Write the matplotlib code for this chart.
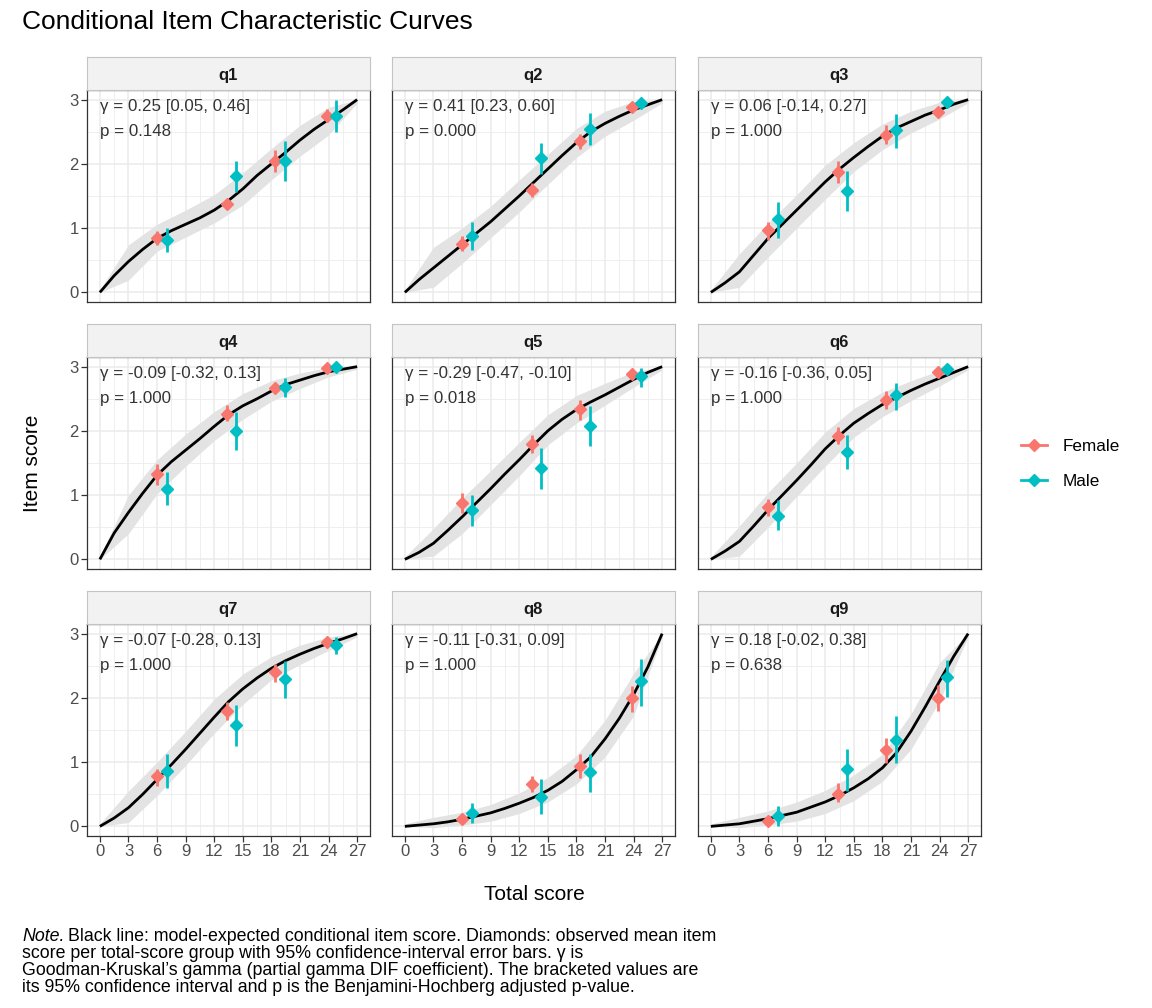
import numpy as np
import matplotlib
matplotlib.use("Agg")
import matplotlib.pyplot as plt
from matplotlib.lines import Line2D

plt.rcParams['font.family'] = ['Liberation Sans', 'DejaVu Sans']

# ---------------- data ----------------
items = ["q1", "q2", "q3", "q4", "q5", "q6", "q7", "q8", "q9"]
gamma_labels = ["γ = 0.25 [0.05, 0.46]", "γ = 0.41 [0.23, 0.60]", "γ = 0.06 [-0.14, 0.27]",
                "γ = -0.09 [-0.32, 0.13]", "γ = -0.29 [-0.47, -0.10]", "γ = -0.16 [-0.36, 0.05]",
                "γ = -0.07 [-0.28, 0.13]", "γ = -0.11 [-0.31, 0.09]", "γ = 0.18 [-0.02, 0.38]"]
p_labels = ["p = 0.148", "p = 0.000", "p = 1.000", "p = 1.000", "p = 0.018", "p = 1.000",
            "p = 1.000", "p = 1.000", "p = 0.638"]

x_ticks = [0, 3, 6, 9, 12, 15, 18, 21, 24, 27]
y_ticks = [0, 1, 2, 3]

curve_x = [0, 1.5, 3, 4.5, 6, 7.5, 9, 10.5, 12, 13.5, 15, 16.5, 18, 19.5, 21, 22.5, 24, 25.5, 27]
q1_curve = [0, 0.26, 0.48, 0.67, 0.84, 0.96, 1.06, 1.16, 1.28, 1.43, 1.61, 1.82, 2.0, 2.18, 2.37, 2.54, 2.69, 2.84, 3.0]
q2_curve = [0, 0.2, 0.38, 0.56, 0.74, 0.92, 1.1, 1.3, 1.5, 1.71, 1.92, 2.13, 2.33, 2.5, 2.63, 2.74, 2.84, 2.92, 3.0]
q3_curve = [0, 0.15, 0.32, 0.58, 0.84, 1.06, 1.28, 1.5, 1.72, 1.92, 2.1, 2.27, 2.43, 2.56, 2.66, 2.76, 2.84, 2.93, 3.0]
q4_curve = [0, 0.41, 0.73, 1.03, 1.31, 1.52, 1.70, 1.88, 2.07, 2.25, 2.39, 2.50, 2.62, 2.72, 2.79, 2.86, 2.92, 2.96, 3.0]
q5_curve = [0, 0.11, 0.25, 0.45, 0.66, 0.88, 1.1, 1.33, 1.55, 1.78, 2.0, 2.18, 2.33, 2.45, 2.56, 2.68, 2.8, 2.91, 3.0]
q6_curve = [0, 0.13, 0.28, 0.52, 0.77, 1.0, 1.23, 1.47, 1.72, 1.93, 2.12, 2.27, 2.41, 2.52, 2.63, 2.73, 2.82, 2.91, 3.0]
q7_curve = [0, 0.13, 0.29, 0.5, 0.73, 0.96, 1.2, 1.45, 1.7, 1.94, 2.14, 2.31, 2.46, 2.58, 2.68, 2.77, 2.85, 2.92, 3.0]
q8_curve = [0, 0.02, 0.04, 0.07, 0.11, 0.16, 0.21, 0.28, 0.36, 0.45, 0.56, 0.7, 0.88, 1.08, 1.36, 1.68, 2.05, 2.48, 3.0]
q9_curve = [0, 0.02, 0.04, 0.08, 0.12, 0.17, 0.22, 0.3, 0.38, 0.48, 0.6, 0.74, 0.91, 1.15, 1.48, 1.86, 2.26, 2.65, 3.0]

band_x = [0, 3, 6, 9, 12, 15, 18, 21, 24, 27]
q1_band_lo = [0, 0.19, 0.64, 0.86, 1.08, 1.36, 1.75, 2.12, 2.45, 2.95]
q1_band_hi = [0.04, 0.74, 1.06, 1.28, 1.52, 1.86, 2.24, 2.60, 2.88, 3.0]
q2_band_lo = [0, 0.08, 0.45, 0.85, 1.25, 1.68, 2.10, 2.43, 2.68, 2.95]
q2_band_hi = [0.04, 0.70, 1.00, 1.34, 1.75, 2.15, 2.55, 2.82, 2.97, 3.0]
q3_band_lo = [0, 0.08, 0.55, 1.00, 1.45, 1.88, 2.22, 2.48, 2.70, 2.95]
q3_band_hi = [0.04, 0.60, 1.08, 1.52, 1.98, 2.33, 2.62, 2.82, 2.96, 3.0]
q4_band_lo = [0, 0.40, 1.02, 1.45, 1.85, 2.18, 2.46, 2.66, 2.84, 2.96]
q4_band_hi = [0.04, 1.00, 1.55, 1.95, 2.30, 2.58, 2.78, 2.90, 2.99, 3.0]
q5_band_lo = [0, 0.05, 0.40, 0.85, 1.30, 1.78, 2.12, 2.40, 2.68, 2.95]
q5_band_hi = [0.04, 0.48, 0.95, 1.38, 1.82, 2.25, 2.55, 2.74, 2.92, 3.0]
q6_band_lo = [0, 0.05, 0.50, 0.98, 1.45, 1.90, 2.22, 2.47, 2.70, 2.95]
q6_band_hi = [0.04, 0.52, 1.04, 1.50, 1.98, 2.35, 2.60, 2.78, 2.94, 3.0]
q7_band_lo = [0, 0.06, 0.48, 0.95, 1.45, 1.90, 2.28, 2.52, 2.74, 2.95]
q7_band_hi = [0.04, 0.55, 1.00, 1.48, 1.98, 2.37, 2.64, 2.82, 2.95, 3.0]
q8_band_lo = [0, -0.02, 0.02, 0.08, 0.20, 0.38, 0.66, 1.08, 1.72, 2.95]
q8_band_hi = [0.04, 0.14, 0.22, 0.34, 0.52, 0.76, 1.10, 1.65, 2.38, 3.0]
q9_band_lo = [0, -0.02, 0.02, 0.08, 0.20, 0.40, 0.70, 1.20, 1.95, 2.95]
q9_band_hi = [0.04, 0.14, 0.24, 0.38, 0.56, 0.80, 1.12, 1.75, 2.55, 3.0]

female_x = [6.0, 13.3, 18.4, 23.8]
male_x = [7.0, 14.3, 19.4, 24.8]

q1_f_mean = [0.84, 1.38, 2.05, 2.75]; q1_f_lo = [0.73, 1.33, 1.88, 2.65]; q1_f_hi = [0.95, 1.43, 2.22, 2.86]
q1_m_mean = [0.81, 1.81, 2.05, 2.75]; q1_m_lo = [0.63, 1.57, 1.74, 2.49]; q1_m_hi = [1.00, 2.05, 2.36, 3.00]
q2_f_mean = [0.75, 1.59, 2.35, 2.88]; q2_f_lo = [0.65, 1.48, 2.23, 2.83]; q2_f_hi = [0.87, 1.70, 2.46, 2.93]
q2_m_mean = [0.87, 2.09, 2.55, 2.94]; q2_m_lo = [0.66, 1.84, 2.29, 2.89]; q2_m_hi = [1.09, 2.32, 2.79, 2.99]
q3_f_mean = [0.97, 1.87, 2.45, 2.80]; q3_f_lo = [0.81, 1.70, 2.31, 2.75]; q3_f_hi = [1.10, 2.04, 2.61, 2.86]
q3_m_mean = [1.14, 1.58, 2.52, 2.97]; q3_m_lo = [0.85, 1.27, 2.25, 2.93]; q3_m_hi = [1.40, 1.89, 2.77, 3.00]
q4_f_mean = [1.33, 2.27, 2.67, 2.98]; q4_f_lo = [1.16, 2.15, 2.60, 2.94]; q4_f_hi = [1.49, 2.40, 2.75, 3.00]
q4_m_mean = [1.10, 2.00, 2.68, 2.99]; q4_m_lo = [0.84, 1.71, 2.52, 2.96]; q4_m_hi = [1.36, 2.30, 2.83, 3.00]
q5_f_mean = [0.88, 1.79, 2.34, 2.89]; q5_f_lo = [0.72, 1.65, 2.17, 2.84]; q5_f_hi = [1.03, 1.94, 2.48, 2.94]
q5_m_mean = [0.77, 1.42, 2.08, 2.85]; q5_m_lo = [0.52, 1.10, 1.77, 2.69]; q5_m_hi = [1.00, 1.73, 2.39, 2.98]
q6_f_mean = [0.81, 1.92, 2.48, 2.92]; q6_f_lo = [0.68, 1.79, 2.34, 2.88]; q6_f_hi = [0.94, 2.06, 2.62, 2.96]
q6_m_mean = [0.68, 1.67, 2.56, 2.97]; q6_m_lo = [0.45, 1.41, 2.32, 2.94]; q6_m_hi = [0.92, 1.93, 2.75, 3.00]
q7_f_mean = [0.78, 1.79, 2.40, 2.87]; q7_f_lo = [0.63, 1.65, 2.25, 2.82]; q7_f_hi = [0.90, 1.93, 2.53, 2.92]
q7_m_mean = [0.86, 1.58, 2.30, 2.82]; q7_m_lo = [0.59, 1.25, 2.00, 2.69]; q7_m_hi = [1.13, 1.89, 2.58, 2.95]
q8_f_mean = [0.12, 0.66, 0.94, 2.00]; q8_f_lo = [0.06, 0.53, 0.76, 1.78]; q8_f_hi = [0.18, 0.79, 1.13, 2.19]
q8_m_mean = [0.21, 0.46, 0.84, 2.26]; q8_m_lo = [0.05, 0.19, 0.54, 1.88]; q8_m_hi = [0.37, 0.73, 1.13, 2.61]
q9_f_mean = [0.09, 0.51, 1.19, 2.00]; q9_f_lo = [0.04, 0.38, 0.99, 1.80]; q9_f_hi = [0.14, 0.67, 1.37, 2.20]
q9_m_mean = [0.16, 0.89, 1.34, 2.32]; q9_m_lo = [0.00, 0.55, 0.98, 2.02]; q9_m_hi = [0.31, 1.21, 1.72, 2.59]

groups = ["Female", "Male"]
note_lines = [
    "Black line: model-expected conditional item score. Diamonds: observed mean item",
    "score per total-score group with 95% confidence-interval error bars. γ is",
    "Goodman-Kruskal’s gamma (partial gamma DIF coefficient). The bracketed values are",
    "its 95% confidence interval and p is the Benjamini-Hochberg adjusted p-value.",
]

curves = [q1_curve, q2_curve, q3_curve, q4_curve, q5_curve, q6_curve, q7_curve, q8_curve, q9_curve]
band_los = [q1_band_lo, q2_band_lo, q3_band_lo, q4_band_lo, q5_band_lo, q6_band_lo, q7_band_lo, q8_band_lo, q9_band_lo]
band_his = [q1_band_hi, q2_band_hi, q3_band_hi, q4_band_hi, q5_band_hi, q6_band_hi, q7_band_hi, q8_band_hi, q9_band_hi]
f_means = [q1_f_mean, q2_f_mean, q3_f_mean, q4_f_mean, q5_f_mean, q6_f_mean, q7_f_mean, q8_f_mean, q9_f_mean]
f_los = [q1_f_lo, q2_f_lo, q3_f_lo, q4_f_lo, q5_f_lo, q6_f_lo, q7_f_lo, q8_f_lo, q9_f_lo]
f_his = [q1_f_hi, q2_f_hi, q3_f_hi, q4_f_hi, q5_f_hi, q6_f_hi, q7_f_hi, q8_f_hi, q9_f_hi]
m_means = [q1_m_mean, q2_m_mean, q3_m_mean, q4_m_mean, q5_m_mean, q6_m_mean, q7_m_mean, q8_m_mean, q9_m_mean]
m_los = [q1_m_lo, q2_m_lo, q3_m_lo, q4_m_lo, q5_m_lo, q6_m_lo, q7_m_lo, q8_m_lo, q9_m_lo]
m_his = [q1_m_hi, q2_m_hi, q3_m_hi, q4_m_hi, q5_m_hi, q6_m_hi, q7_m_hi, q8_m_hi, q9_m_hi]

# ---------------- style ----------------
W, H = 1152, 1008
F_COL = "#F8766D"
M_COL = "#00BFC4"
GRID = "#EBEBEB"
BAND = "#E3E3E3"

fig = plt.figure(figsize=(W / 100, H / 100), dpi=100)

col_left = [87, 392, 698]
panel_w = 283
row_top = [90, 357, 624]
panel_h = 212
strip_h = 33


def fx(px):
    return px / W


def fy(py):
    return 1 - py / H


for i, item in enumerate(items):
    r, c = divmod(i, 3)
    left = col_left[c]
    top = row_top[r]
    ax = fig.add_axes([fx(left), fy(top + panel_h), panel_w / W, panel_h / H])
    ax.set_xlim(-1.35, 28.35)
    ax.set_ylim(-0.15, 3.15)
    ax.set_xticks(x_ticks)
    ax.set_xticks(np.arange(1.5, 27, 3), minor=True)
    ax.set_yticks(y_ticks)
    ax.set_yticks([0.5, 1.5, 2.5], minor=True)
    ax.grid(which='major', color=GRID, lw=1.1)
    ax.grid(which='minor', color=GRID, lw=0.55)
    ax.set_axisbelow(True)
    for s in ax.spines.values():
        s.set_color("#333333")
        s.set_linewidth(0.9)
    ax.tick_params(which='minor', length=0)
    ax.tick_params(which='major', length=4, width=0.9, color="#333333",
                   labelsize=12, labelcolor="#4D4D4D", pad=2)
    if c != 0:
        ax.tick_params(axis='y', which='major', left=False, labelleft=False)
    if r != 2:
        ax.tick_params(axis='x', which='major', bottom=False, labelbottom=False)

    ax.fill_between(band_x, band_los[i], band_his[i], color=BAND, lw=0, zorder=1)
    ax.plot(curve_x, curves[i], color="black", lw=2.0, zorder=3,
            solid_joinstyle='round', solid_capstyle='butt')

    for xs, means, los, his, col in [(female_x, f_means[i], f_los[i], f_his[i], F_COL),
                                     (male_x, m_means[i], m_los[i], m_his[i], M_COL)]:
        ax.vlines(xs, los, his, color=col, lw=2.0, zorder=4)
        ax.plot(xs, means, ls='none', marker='D', ms=6.6, color=col, mec=col, zorder=5)

    ax.text(0, 2.9, gamma_labels[i], fontsize=12.2, color="#333333", va='center', ha='left', zorder=6)
    ax.text(0, 2.5, p_labels[i], fontsize=12.2, color="#333333", va='center', ha='left', zorder=6)

    sax = fig.add_axes([fx(left), fy(top), panel_w / W, strip_h / H])
    sax.set_facecolor("#F2F2F2")
    sax.set_xticks([])
    sax.set_yticks([])
    for s in sax.spines.values():
        s.set_color("#C4C4C4")
        s.set_linewidth(0.8)
    sax.text(0.5, 0.45, item, transform=sax.transAxes, ha='center', va='center',
             fontsize=12, fontweight='bold', color="#1A1A1A")

# titles
fig.text(fx(22), fy(22), "Conditional Item Characteristic Curves", fontsize=19,
         ha='left', va='center', color="black")
fig.text(fx(32), fy(463), "Item score", rotation=90, fontsize=15, ha='center', va='center')
fig.text(fx(534), fy(894), "Total score", fontsize=15, ha='center', va='center')

# legend
handles = [Line2D([], [], color=F_COL, lw=2.0, marker='D', ms=6.6),
           Line2D([], [], color=M_COL, lw=2.0, marker='D', ms=6.6)]
fig.legend(handles, groups, loc='center left', bbox_to_anchor=(fx(1006), fy(464)),
           frameon=False, fontsize=12.3, handlelength=1.5, labelspacing=1.15,
           handletextpad=0.9)

# note
renderer = fig.canvas.get_renderer()
note_base = [941, 958, 975, 992]
note_fs = 12.8
t0 = fig.text(fx(22), fy(note_base[0]), "Note.", fontsize=note_fs, style='italic',
              ha='left', va='baseline')
bb = t0.get_window_extent(renderer=renderer)
fig.text((bb.x1 + 4) / W, fy(note_base[0]), note_lines[0], fontsize=note_fs,
         ha='left', va='baseline')
for k in range(1, 4):
    fig.text(fx(22), fy(note_base[k]), note_lines[k], fontsize=note_fs, ha='left', va='baseline')

fig.savefig("out.png", dpi=100)
